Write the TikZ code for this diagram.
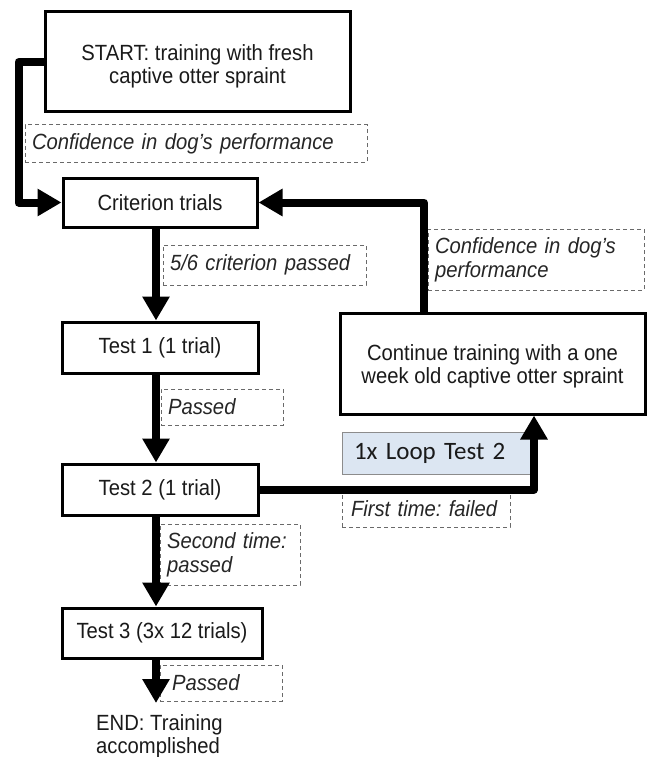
\documentclass[tikz,border=0pt]{standalone}
\usepackage{fontspec}
\setmainfont{Liberation Sans}[FakeStretch=0.92]
\newfontfamily\calib{Carlito}
\usetikzlibrary{arrows.meta,calc}
\definecolor{txt}{HTML}{1A1A1A}
\definecolor{labtxt}{HTML}{262626}
\definecolor{dashc}{HTML}{6A6A6A}
\definecolor{loopfill}{HTML}{DCE6F2}
\definecolor{loopdraw}{HTML}{8C8C8C}
\frenchspacing
\newcommand{\lowtwo}[3]{\raisebox{#1}[0pt][0pt]{\begin{tabular}[b]{@{}c@{}}#2\\#3\end{tabular}}}
\begin{document}
\frenchspacing
\begin{tikzpicture}[x=1pt,y=-1pt,
  every node/.style={text=txt},
  box/.style={draw=black, line width=3pt, fill=white, inner sep=0pt, align=center,
    font=\fontsize{22}{23}\selectfont},
  dbox/.style={draw=dashc, line width=1pt, dash pattern=on 4pt off 3pt, inner ysep=0pt,
    inner xsep=7pt, align=left, text=labtxt, font=\fontsize{22}{24}\selectfont\itshape},
  conn/.style={line width=8pt, line join=round, draw=black,
    -{Triangle[length=24pt,width=26pt]}}
]
\useasboundingbox (0,0) rectangle (650,757);

% coordinates for connector columns
\coordinate (mc) at (156,0);
\coordinate (rc) at (424,0);
\coordinate (lc) at (534,0);
\coordinate (endtip) at (156,703);

% dashed labels
\node[dbox, minimum height=37pt, text width=328pt] (l1) at (196,143.5) {Confidence in dog’s performance};
\node[dbox, minimum height=40pt, text width=189pt] (l2) at (264.5,265) {5/6 criterion passed};
\node[dbox, minimum height=61pt, text width=202pt] (l3) at (536,259.5) {Confidence in dog’s\\performance};
\node[dbox, minimum height=36pt, text width=108pt] (l4) at (222,407) {Passed};
\node[dbox, minimum height=37pt, inner xsep=9pt, text width=150pt] (l5) at (426,508.5) {First time: failed};
\node[dbox, minimum height=61pt, text width=126pt] (l6) at (230,554.5) {Second time:\\passed};
\node[dbox, minimum height=36pt, inner xsep=12pt, text width=98pt] (l7) at (221,683) {Passed};

% boxes
\node[box, minimum width=305pt, minimum height=100pt] (start) at (197.5,62)
  {\lowtwo{-22pt}{START: training with fresh}{captive otter spraint}};
\node[box, minimum width=194pt, minimum height=49pt] (crit) at (160,202.5) {Criterion trials};
\node[box, minimum width=305pt, minimum height=101pt] (cont) at (492.5,363.5)
  {\lowtwo{-20pt}{Continue training with a one}{week old captive otter spraint}};
\node[box, minimum width=196pt, minimum height=51pt] (t1) at (160,347.5) {Test 1 (1 trial)};
\node[box, minimum width=196pt, minimum height=51pt] (t2) at (160,489.5) {Test 2 (1 trial)};
\node[box, minimum width=200pt, minimum height=50pt] (t3) at (162,633) {Test 3 (3x 12 trials)};
\node[draw=loopdraw, line width=1pt, fill=loopfill, minimum width=188pt, minimum height=42pt,
  inner xsep=12pt, text width=164pt, align=left, font=\calib\fontsize{25}{28}\selectfont]
  (loop) at (436,453) {1x Loop Test 2};
\node[anchor=north west, align=left, inner sep=0pt, font=\fontsize{22}{23}\selectfont]
  (endt) at (96,714) {END: Training\\accomplished};

% connectors
\draw[conn] (start.west) -- ++(-25,0) |- (crit.west);
\draw[conn] (cont.north -| rc) |- (crit.east);
\draw[conn] (crit.south -| mc) -- (t1.north -| mc);
\draw[conn] (t1.south -| mc) -- (t2.north -| mc);
\draw[conn] (t2.east) -| (cont.south -| lc);
\draw[conn] (t2.south -| mc) -- (t3.north -| mc);
\draw[conn] (t3.south -| mc) -- (endtip);
\end{tikzpicture}
\end{document}
